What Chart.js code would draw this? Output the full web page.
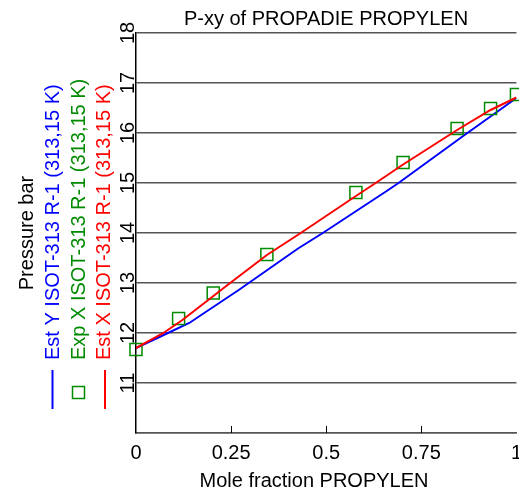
<!DOCTYPE html>
<html lang="en">
<head>
    <meta charset="UTF-8">
    <title>P-xy of PROPADIE PROPYLEN</title>
    <script src="https://cdn.jsdelivr.net/npm/chart.js"></script>
    <style>
        html, body { margin: 0; padding: 0; background: #fff; overflow: hidden; }
        #pxyChart { position: absolute; left: 0; top: 0; }
    </style>
</head>
<body>
    <canvas id="pxyChart" width="530" height="491"></canvas>
    <script>
        // Est Y (vapour) curve
        const estYFrac = [0, 0.07, 0.14, 0.27, 0.426, 0.491, 0.661, 0.69, 0.86, 1.0];
        const estYPres = [11.70, 11.95, 12.20, 12.86, 13.69, 14.00, 14.85, 15.00, 15.94, 16.70];

        // Exp X measured points
        const expXFrac = [0, 0.112, 0.203, 0.344, 0.578, 0.702, 0.844, 0.932, 1.0];
        const expXPres = [11.67, 12.29, 12.80, 13.57, 14.81, 15.41, 16.09, 16.49, 16.77];

        // Est X (liquid) curve
        const estXFrac = [0, 0.07, 0.122, 0.2, 0.244, 0.344, 0.433, 0.578, 0.63, 0.70, 0.844, 0.932, 1.0];
        const estXPres = [11.70, 11.99, 12.26, 12.72, 12.98, 13.56, 14.00, 14.74, 15.00, 15.36, 16.06, 16.46, 16.71];

        const seriesNames = [
            'Est Y ISOT-313 R-1 (313,15 K)',
            'Exp X ISOT-313 R-1 (313,15 K)',
            'Est X ISOT-313 R-1 (313,15 K)'
        ];
        const chartTitle = 'P-xy of PROPADIE PROPYLEN';
        const xTitle = 'Mole fraction PROPYLEN';
        const yTitle = 'Pressure bar';

        const FONT = '"Liberation Sans", Arial, sans-serif';
        const BLUE = '#0000ff', GREEN = '#008a00', RED = '#ff0000';

        function toPoints(xs, ys) {
            return xs.map((x, i) => ({ x: x, y: ys[i] }));
        }

        // rotated labels, titles and the legend written up the left side
        const sideText = {
            id: 'sideText',
            afterDraw(chart) {
                const ctx = chart.ctx;
                const area = chart.chartArea;
                const xs = chart.scales.x;
                const ys = chart.scales.y;
                ctx.save();
                ctx.fillStyle = '#000';
                ctx.font = '20px ' + FONT;
                ctx.textBaseline = 'alphabetic';
                ctx.textAlign = 'center';
                ctx.fillText(chartTitle, 326, 25);
                ctx.fillText(xTitle, 314, 487);

                // small inward ticks on the bottom axis
                ctx.strokeStyle = '#000';
                ctx.lineWidth = 1;
                xs.ticks.forEach(t => {
                    if (t.value <= xs.min || t.value >= xs.max) return;
                    const px = Math.round(xs.getPixelForValue(t.value)) + 0.5;
                    ctx.beginPath();
                    ctx.moveTo(px, area.bottom);
                    ctx.lineTo(px, area.bottom - 7);
                    ctx.stroke();
                });

                function upText(text, x, y, align, color) {
                    ctx.save();
                    ctx.translate(x, y);
                    ctx.rotate(-Math.PI / 2);
                    ctx.textAlign = align;
                    ctx.fillStyle = color;
                    ctx.fillText(text, 0, 0);
                    ctx.restore();
                }

                // y tick labels
                ys.ticks.forEach(t => {
                    if (t.value <= ys.min) return;
                    upText(String(t.value), 134, ys.getPixelForValue(t.value), 'center', '#000');
                });

                upText(yTitle, 33, (area.top + area.bottom) / 2, 'center', '#000');

                // legend entries
                upText(seriesNames[0], 59, 360, 'left', BLUE);
                upText(seriesNames[1], 85, 360, 'left', GREEN);
                upText(seriesNames[2], 110, 360, 'left', RED);

                ctx.lineWidth = 2;
                ctx.strokeStyle = BLUE;
                ctx.beginPath(); ctx.moveTo(52.5, 370); ctx.lineTo(52.5, 409); ctx.stroke();
                ctx.strokeStyle = RED;
                ctx.beginPath(); ctx.moveTo(105, 370); ctx.lineTo(105, 409); ctx.stroke();
                ctx.lineWidth = 1.5;
                ctx.strokeStyle = GREEN;
                ctx.strokeRect(72.5, 386.5, 12, 12);
                ctx.restore();
            }
        };

        const ctx = document.getElementById('pxyChart').getContext('2d');
        const pxyChart = new Chart(ctx, {
            type: 'scatter',
            data: {
                datasets: [{
                    label: seriesNames[0],
                    data: toPoints(estYFrac, estYPres),
                    showLine: true,
                    borderColor: BLUE,
                    borderWidth: 2,
                    pointRadius: 0,
                    order: 3
                }, {
                    label: seriesNames[1],
                    data: toPoints(expXFrac, expXPres),
                    showLine: false,
                    clip: false,
                    pointStyle: 'rect',
                    pointRadius: 8.5,
                    pointBorderWidth: 1.5,
                    pointBorderColor: GREEN,
                    pointBackgroundColor: 'rgba(0,0,0,0)',
                    order: 2
                }, {
                    label: seriesNames[2],
                    data: toPoints(estXFrac, estXPres),
                    showLine: true,
                    borderColor: RED,
                    borderWidth: 2,
                    pointRadius: 0,
                    order: 1
                }]
            },
            options: {
                responsive: false,
                animation: false,
                devicePixelRatio: 1,
                layout: { padding: { left: 0, right: 10, top: 33, bottom: 0 } },
                plugins: {
                    legend: { display: false },
                    tooltip: { enabled: false },
                    title: { display: false }
                },
                scales: {
                    x: {
                        type: 'linear',
                        min: 0,
                        max: 1,
                        afterFit: s => { s.height = 58; },
                        ticks: {
                            stepSize: 0.25,
                            color: '#000',
                            padding: 8,
                            maxRotation: 0,
                            font: { family: FONT, size: 20 },
                            callback: v => String(v)
                        },
                        grid: { display: false, drawTicks: false },
                        border: { display: true, color: '#555', width: 1.5 }
                    },
                    y: {
                        type: 'linear',
                        min: 10,
                        max: 18,
                        afterFit: s => { s.width = 136; },
                        ticks: { stepSize: 1, display: false },
                        grid: { color: '#555', lineWidth: 1.5, drawTicks: false },
                        border: { display: true, color: '#000', width: 1.5 }
                    }
                }
            },
            plugins: [sideText]
        });
    </script>
</body>
</html>
